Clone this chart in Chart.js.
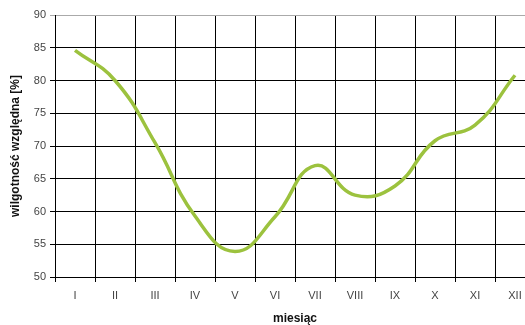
<!DOCTYPE html>
<html><head><meta charset="utf-8">
<script src="https://cdn.jsdelivr.net/npm/chart.js@4/dist/chart.umd.min.js"></script>
<style>html,body{margin:0;padding:0;overflow:hidden;background:#fff;width:525px;height:325px}</style>
</head><body>
<canvas id="c" width="540" height="326" style="width:540px;height:326px"></canvas>
<script>
const months = ['I','II','III','IV','V','VI','VII','VIII','IX','X','XI','XII'];
const humidity = [84.6, 80.0, 70.5, 59.3, 53.9, 59.2, 67.0, 62.5, 63.9, 70.8, 73.2, 80.8];
const yTicksMin = 50, yTicksMax = 90, yStep = 5;

new Chart(document.getElementById('c'), {
  type: 'line',
  data: { labels: months, datasets: [{
    data: humidity, borderColor: '#9cc23e', borderWidth: 3.5,
    pointRadius: 0, tension: 0.45, fill: false
  }]},
  options: {
    responsive: false, animation: false,
    layout: { padding: { top: 15, right: 5, left: 0, bottom: 0 } },
    plugins: { legend: { display: false }, tooltip: { enabled: false } },
    scales: {
      x: {
        offset: true,
        grid: { offset: true, color: '#000', lineWidth: 1, tickLength: 5, drawTicks: true },
        border: { color: '#000', width: 1 },
        ticks: { color: '#444', font: { family: 'Liberation Sans', size: 11 }, padding: 7, maxRotation: 0 },
        title: { display: true, text: 'miesiąc', color: '#111', font: { family: 'Liberation Sans', size: 12, weight: 'bold' }, padding: { top: 6, bottom: 0 } },
        afterFit: s => { s.height = 49; }
      },
      y: {
        min: yTicksMin, max: yTicksMax,
        grid: { color: ctx => ctx.tick && ctx.tick.value === yTicksMax ? '#aaa' : '#000', lineWidth: 1, tickLength: 5 },
        border: { color: '#000', width: 1 },
        ticks: { stepSize: yStep, color: '#444', font: { family: 'Liberation Sans', size: 11 }, padding: 4 },
        title: { display: true, text: 'wilgotność względna [%]', color: '#111', font: { family: 'Liberation Sans', size: 12, weight: 'bold' }, padding: { top: 8, bottom: 4 } },
        afterFit: s => { s.width = 55; }
      }
    }
  }
});
</script>
</body></html>
